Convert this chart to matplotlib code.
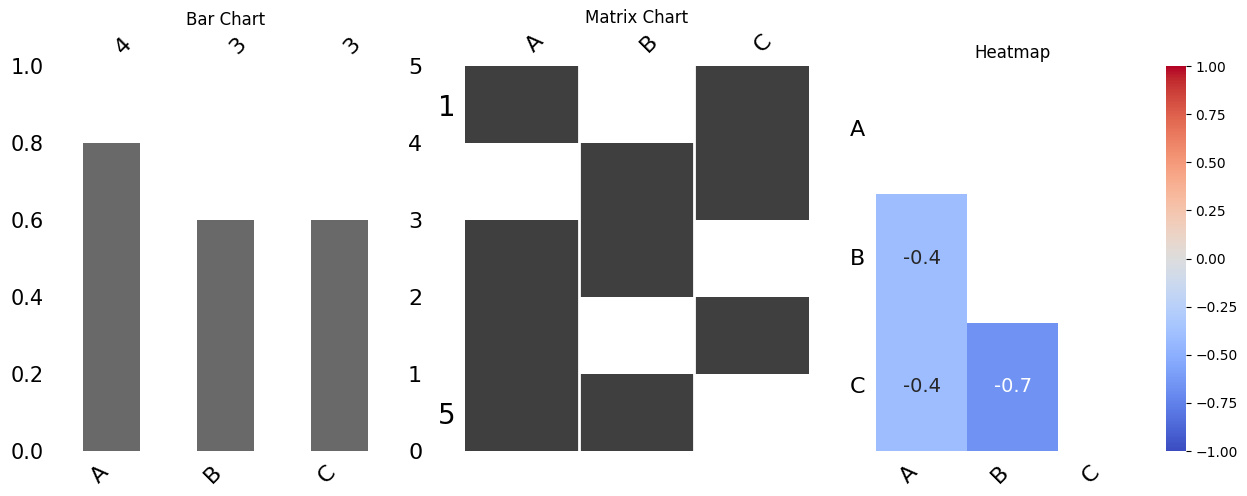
import matplotlib
matplotlib.use("Agg")
import matplotlib.pyplot as plt
import numpy as np
import seaborn as sns

columns = ["A", "B", "C"]
n_rows = 5

# 1 = value present, 0 = missing (read top row first)
present_a = [1, 0, 1, 1, 1]
present_b = [0, 1, 1, 0, 1]
present_c = [1, 1, 0, 1, 0]

counts = [4, 3, 3]
fractions = [0.8, 0.6, 0.6]

# nullity correlation (lower triangle is shown)
corr_ab = -0.41
corr_ac = -0.41
corr_bc = -0.67

fig = plt.figure(figsize=(12.47, 4.96), dpi=100)

# ---- bar chart ----
ax1 = fig.add_axes([0.0441, 0.0907, 0.2742, 0.7762])
pos = np.arange(len(columns))
ax1.bar(pos, fractions, width=0.5, color="dimgray")
ax1.set_xlim(-0.5, len(columns) - 0.5)
ax1.set_ylim(0, 1)
ax1.set_xticks(pos)
ax1.set_xticklabels(columns, rotation=45, ha="right", fontsize=16)
ax1.set_yticks([0, 0.2, 0.4, 0.6, 0.8, 1.0])
ax1.set_yticklabels(["0.0", "0.2", "0.4", "0.6", "0.8", "1.0"], fontsize=15)
ax1.tick_params(length=0, pad=8)

ax2 = ax1.twinx()
ax2.set_ylim(0, n_rows)
ax2.set_yticks(range(n_rows + 1))
ax2.set_yticklabels([str(i) for i in range(n_rows + 1)], fontsize=16)
ax2.tick_params(length=0, pad=8)

ax3 = ax1.twiny()
ax3.set_xlim(ax1.get_xlim())
ax3.set_xticks(pos)
ax3.set_xticklabels([str(c) for c in counts], rotation=45, ha="left", fontsize=16)
ax3.tick_params(length=0, pad=6)
ax3.set_title("Bar Chart", fontsize=12)

for a in (ax1, ax2, ax3):
    for s in a.spines.values():
        s.set_visible(False)

# ---- matrix chart ----
axm = fig.add_axes([0.3729, 0.0907, 0.2751, 0.7762])
present = np.array([present_a, present_b, present_c]).T
img = np.ones((n_rows, len(columns), 3))
img[present == 1] = (0.25, 0.25, 0.25)
axm.imshow(img, aspect="auto", interpolation="none")
for x in np.arange(0.5, len(columns) - 0.5):
    axm.axvline(x, color="white", linewidth=2)
axm.xaxis.tick_top()
axm.set_xticks(range(len(columns)))
axm.set_xticklabels(columns, rotation=45, ha="left", fontsize=16)
axm.set_yticks([0, n_rows - 1])
axm.set_yticklabels(["1", str(n_rows)], fontsize=20)
axm.tick_params(axis="y", length=0, pad=7)
axm.tick_params(axis="x", length=0, pad=7)
for s in axm.spines.values():
    s.set_visible(False)
axm.set_title("Matrix Chart", fontsize=12)

# ---- heatmap ----
axh = fig.add_axes([0.7025, 0.0907, 0.2189, 0.7762])
cax = fig.add_axes([0.935, 0.0907, 0.016, 0.7762])
corr = np.array([
    [1.0, corr_ab, corr_ac],
    [corr_ab, 1.0, corr_bc],
    [corr_ac, corr_bc, 1.0],
])
mask = np.triu(np.ones_like(corr, dtype=bool))
sns.heatmap(corr, mask=mask, cmap="coolwarm", vmin=-1, vmax=1, annot=True,
            fmt=".1f", annot_kws={"size": 14}, ax=axh, cbar_ax=cax,
            xticklabels=columns, yticklabels=columns)
axh.set_xticklabels(columns, rotation=45, ha="right", fontsize=16)
axh.set_yticklabels(columns, rotation=0, fontsize=16)
axh.tick_params(length=0, pad=8)
axh.set_title("Heatmap", fontsize=12)
cax.tick_params(labelsize=10)

fig.savefig("out.png", dpi=100)
